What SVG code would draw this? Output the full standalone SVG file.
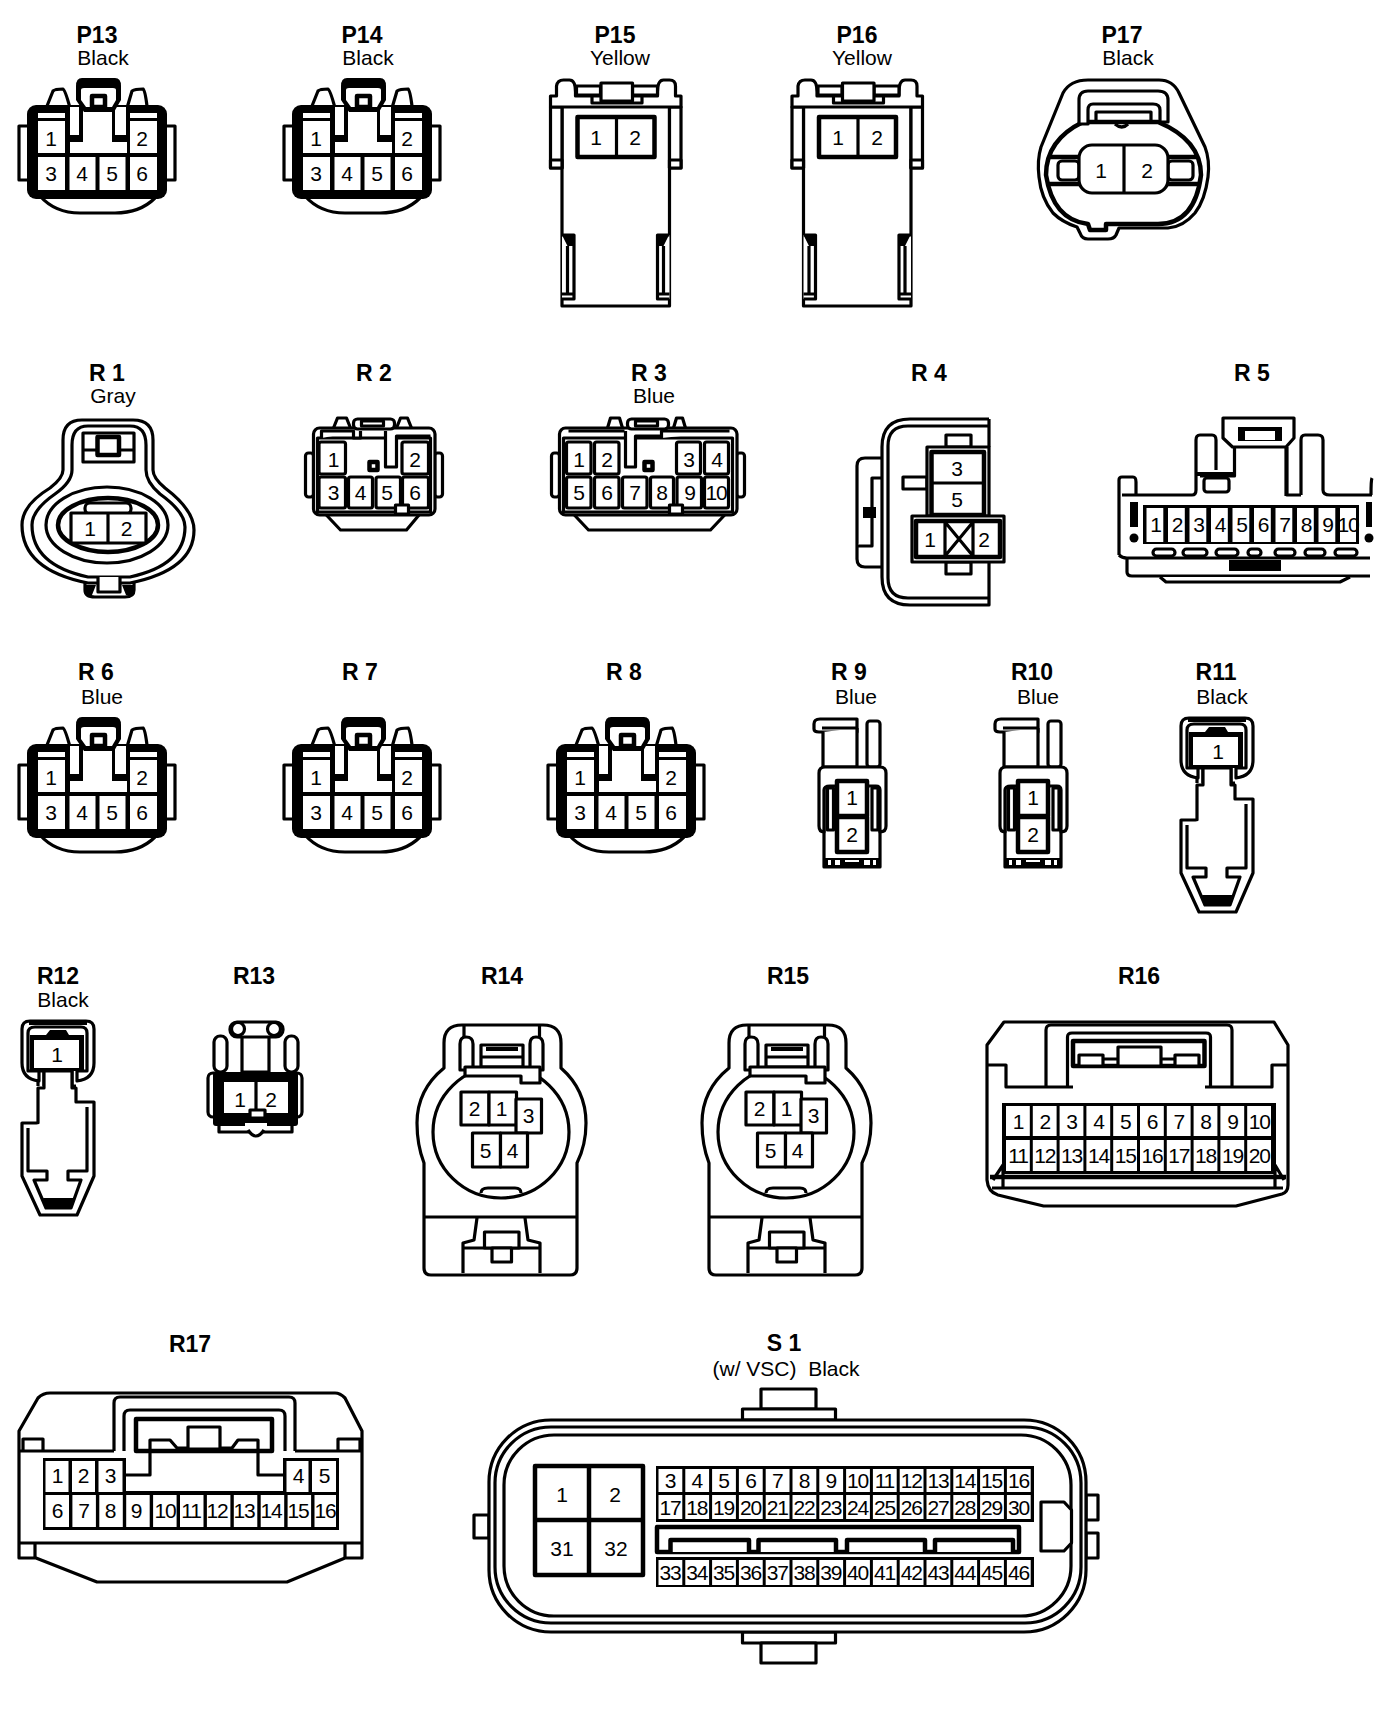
<svg xmlns="http://www.w3.org/2000/svg" width="1392" height="1712" viewBox="0 0 1392 1712">
<style>
text{font-family:"Liberation Sans",Arial,sans-serif;fill:#000;text-anchor:middle}
.l{font-size:23px;font-weight:bold}
.c{font-size:21px}
.n text,.n{font-size:21px}
.t2 text{letter-spacing:-1.2px}
.s,.s *{fill:#fff;stroke:#000;stroke-width:3.2;stroke-linejoin:round}
.o,.o *{fill:none;stroke:#000;stroke-width:3.2;stroke-linejoin:round}
.h{stroke-width:4.5 !important}
.f,.f *{fill:#000;stroke:none}
.w,.w *{fill:#fff;stroke:none}
</style>
<defs>
<g id="six">
<g class="s"><rect x="19" y="126" width="10" height="54"/><rect x="165" y="126" width="10" height="54"/>
<path d="M47,106 L53,91 Q55,89 63,89 Q65,89 70,108 M127,108 L132,91 Q135,89 143,89 Q145,90 147,106"/>
<path d="M40,196 Q55,213 80,213 H115 Q140,213 155,198"/></g>
<rect class="f" x="27" y="105" width="140" height="94" rx="9"/>
<g class="w"><rect x="38" y="113" width="27" height="5"/><rect x="130" y="113" width="27" height="5"/>
<rect x="38" y="121" width="27" height="32"/><rect x="130" y="121" width="27" height="32"/>
<rect x="38" y="157" width="27" height="33"/><rect x="69.5" y="157" width="26" height="33"/><rect x="99.5" y="157" width="26" height="33"/><rect x="130" y="157" width="27" height="33"/>
<path d="M83,107 H112 V142 H127 V153 H70 V142 H83Z"/><rect x="70" y="107" width="9" height="28"/><rect x="115" y="107" width="11" height="28"/></g>
<path class="f" d="M76,86 Q76,78 82,78 H115 Q121,78 121,86 V100 L114,112 H84 L76,100Z"/>
<path class="w" d="M81,90 Q81,88 84,88 H113 Q116,88 116,90 V100 L112,107 H86 L81,100Z"/>
<rect class="s h" x="92" y="96" width="13" height="11"/>
</g>
<g id="p15">
<g class="s">
<path d="M564.5,100 V306 H672 V100Z"/>
<rect x="553" y="107" width="11.5" height="61"/><rect x="672" y="107" width="11.5" height="61"/>
<path d="M553,107 V96 H559 V86 Q560,80 566,80 H572 Q578,80 578,92 V96 H660 V92 Q660,80 666,80 H672 Q678,80 678,86 V96 H683.5 V107Z"/>
<rect x="579" y="86" width="24" height="9"/><rect x="635" y="86" width="25" height="9"/>
<rect x="594.5" y="96" width="50" height="7"/><rect x="603.5" y="83" width="31.5" height="18"/>
<rect x="553" y="160" width="11.5" height="8"/><rect x="672" y="160" width="11.5" height="8"/>
<rect x="580" y="117" width="77" height="40" class="h"/><path d="M619,117 V157"/>
<path d="M564.5,299 H576.5 V235 H564.5 M570,246 V294 M564.5,294 H576.5 M672,299 H660 V235 H672 M666,246 V294 M660,294 H672"/>
</g>
<path class="f" d="M565,236 H576 V246 L570,246Z M660,236 H671 L666,246 H660Z"/>
</g>
<g id="r9">
<g class="s">
<path d="M819,732 H857 V719 H820 Q814,719 814,724 V729 Q814,732 819,732Z"/>
<path d="M823,732 V767 H857 V728 M822,728 H857"/>
<rect x="867" y="721" width="13" height="46" rx="3"/>
<path d="M824,767 V867 H880 V767"/>
<path d="M825,767 H880 Q886,767 886,773 V826 Q886,832 880,832 L880,790 Q880,786 876,786 H830 Q824,786 824,790 V832 Q819,832 819,826 V773 Q819,767 825,767Z"/>
<rect x="827.5" y="788" width="6" height="42"/><rect x="872" y="788" width="6" height="42"/>
<rect x="837" y="781" width="30" height="35" class="h"/><rect x="837" y="817" width="30" height="35" class="h"/>
</g>
<rect class="f" x="824" y="858" width="56" height="9"/>
<g class="w"><rect x="828" y="860" width="3" height="5"/><rect x="835" y="860" width="5" height="5"/><rect x="845" y="860" width="14" height="2"/><rect x="864" y="860" width="6" height="5"/><rect x="873" y="860" width="3" height="5"/></g>
<circle class="w" cx="873" cy="727" r="3"/>
</g>
<g id="r11">
<g class="s">
<path d="M1197,783 V768 H1203 V783 M1231,768 V783 H1235"/>
<path d="M1203,768 V785 H1197 V820 H1181 V873 L1199,912 H1236 L1253,873 V799 H1235 V785 H1231 V768Z"/>
<path d="M1198,778 Q1181,776 1181,760 V726 Q1181,718 1189,718 H1245 Q1253,718 1253,726 V760 Q1253,776 1236,778 V768 H1246 V730 Q1246,724 1240,724 H1194 Q1187,724 1187,730 V768 H1198Z"/>
<path d="M1187,825 V868 H1206 V877 H1193 L1205,905 H1230 L1240,877 H1227 V868 H1246 V804"/>
</g>
<path class="f" d="M1188,719 H1246 V722 H1188Z M1189,732 H1205 L1209,727 H1225 L1228,732 H1243 V768 H1189Z M1202,895 H1234 L1230,906 H1205Z"/>
<rect class="w" x="1193" y="737" width="45" height="28"/>
</g>
<g id="r14">
<g class="s">
<path d="M446,1068 V1043 Q446,1025 464,1025 H545 Q563,1025 563,1043 V1068 Q588,1090 588,1123 Q588,1145 579,1163 V1268 Q579,1275 572,1275 H433 Q426,1275 426,1268 V1163 Q419,1145 419,1123 Q419,1090 446,1068Z"/>
<ellipse cx="503" cy="1132" rx="68" ry="66"/>
<path class="o" d="M466,1025 V1040 M541.5,1025 V1040 M426,1217 H579 M479,1218 L476,1240 L465,1243 V1273 M527,1218 L530,1240 L542,1243 V1273 M465,1248 H542"/>
<path d="M483,1193 Q483,1188 490,1188 H517 Q523,1188 523,1193"/>
<path d="M462,1070 V1044 Q462,1037 468,1037 Q475,1037 475,1044 V1070Z M532,1070 V1044 Q532,1037 538,1037 Q545,1037 545,1044 V1070Z"/>
<rect x="483" y="1045" width="42" height="22"/>
<path d="M483,1057 H525" />
<path d="M467,1067 H542 V1083 H523 V1076 H467Z"/>
<rect x="486.5" y="1232" width="34.5" height="16"/><rect x="494" y="1248" width="19.5" height="14"/>
</g>
<g class="f"><rect x="488" y="1047" width="32" height="4"/></g>
</g>
</defs>

<g id="P13"><use href="#six"/><text class="l" x="97" y="43">P13</text><text class="c" x="103" y="65">Black</text>
<g class="n"><text x="51" y="146">1</text><text x="142" y="146">2</text><text x="51" y="181">3</text><text x="82" y="181">4</text><text x="112" y="181">5</text><text x="142" y="181">6</text></g></g>
<g id="P14"><use href="#six" x="265"/><text class="l" x="362" y="43">P14</text><text class="c" x="368" y="65">Black</text>
<g class="n" transform="translate(265,0)"><text x="51" y="146">1</text><text x="142" y="146">2</text><text x="51" y="181">3</text><text x="82" y="181">4</text><text x="112" y="181">5</text><text x="142" y="181">6</text></g></g>
<g id="P15"><use href="#p15" x="-2.5"/><text class="l" x="615" y="43">P15</text><text class="c" x="620" y="65">Yellow</text>
<g class="n"><text x="596" y="145">1</text><text x="635" y="145">2</text></g></g>
<g id="P16"><use href="#p15" x="239"/><text class="l" x="857" y="43">P16</text><text class="c" x="862" y="65">Yellow</text>
<g class="n"><text x="838" y="145">1</text><text x="877" y="145">2</text></g></g>
<g id="P17"><text class="l" x="1122" y="43">P17</text><text class="c" x="1128" y="65">Black</text>
<g class="s" transform="translate(-2,0)">
<path d="M1090,80 H1161 Q1175,80 1181,93 L1207,147 Q1212,160 1210,177 Q1207,200 1197,213 Q1185,227 1170,228 H1121 L1118,235 Q1116,239 1110,239 H1090 Q1084,239 1082,233 L1079,227 Q1064,222 1055,213 Q1043,198 1041,177 Q1039,160 1043,147 L1065,93 Q1072,80 1090,80Z"/>
<path class="h" d="M1090,224 Q1055,220 1048,175 Q1048,140 1085,122 L1160,122 Q1203,140 1203,175 Q1197,224 1160,224 H1108 V230 H1092Z"/>
<path d="M1081,120 V100 Q1081,91 1090,91 H1160 Q1170,91 1170,100 V122 H1162 V110 Q1162,104 1155,104 H1095 Q1090,104 1090,110 V124 H1081Z"/>
<path class="o" d="M1098,122 V112 H1153 V122 M1117,124 Q1124,130 1130,124"/>
<path class="o h" d="M1050,157 H1081 M1050,184 H1081 M1170,157 H1200 M1170,184 H1200"/>
<rect x="1060" y="161" width="21" height="19" rx="4"/><rect x="1170" y="161" width="25" height="19" rx="4"/>
<rect x="1081" y="145" width="89" height="48" rx="13"/><path d="M1126,146 V192"/>
</g>
<g class="n"><text x="1101" y="178">1</text><text x="1147" y="178">2</text></g></g>

<g id="R1"><text class="l" x="107" y="381">R 1</text><text class="c" x="113" y="403">Gray</text>
<g class="s">
<path d="M85,575 V590 Q85,597 95,597 H125 Q134,597 134,590 V575Z"/>
<path d="M63,440 Q63,420 82,420 H133 Q153,420 153,440 V470 Q153,478 165,488 Q194,510 194,530 Q194,570 130,583 H88 Q22,570 22,525 Q22,505 50,488 Q63,478 63,470Z"/>
<path d="M72,445 Q72,426 88,426 H130 Q146,426 146,445 V470 Q146,482 160,494 Q185,512 185,527 Q185,565 130,577 H88 Q32,565 32,525 Q32,510 55,494 Q72,482 72,470Z"/>
<ellipse cx="107" cy="525" rx="61" ry="38"/>
<ellipse class="h" cx="108" cy="525" rx="50" ry="27"/>
<rect x="85" y="503" width="46" height="11" rx="5"/>
<rect x="71" y="513" width="75" height="30"/><path d="M108,513 V543"/>
<rect x="83" y="433" width="51" height="29"/><path d="M83,450 H134"/>
<rect x="97.5" y="437" width="21.5" height="18" class="h"/>
<path d="M98,577 V592 H120 V577"/>
</g>
<path class="f" d="M85,585 H96 L92,595 H86Z M122,585 H134 L133,595 H126Z"/>
<g class="n"><text x="90" y="536">1</text><text x="126.500" y="536">2</text></g></g>

<g id="R2"><text class="l" x="374" y="381">R 2</text>
<g class="s" transform="translate(-2.500,0)">
<rect x="308" y="453" width="8" height="44" rx="3"/><rect x="437" y="453" width="8" height="44" rx="3"/>
<path d="M326,512 L343,530 H409 L424,512"/>
<path d="M336,428 L340,418 H349 L353,428"/><path d="M399,428 L403,418 H410 L414,428"/>
<rect x="316" y="428" width="121.500" height="87" rx="6"/>
<rect x="320" y="438" width="113" height="74"/>
<path d="M324,438 V431 H356 L356,438 H363 V431"/>
<rect x="356" y="419" width="41" height="10" rx="4"/><rect x="364" y="421" width="22" height="5"/>
<path d="M388,431 V467 H399 V436 H433"/>
<rect x="372" y="462" width="8" height="8" class="h"/>
<rect x="321.500" y="442" width="26.500" height="32" rx="2"/><rect x="404.500" y="442" width="26.500" height="32" rx="2"/>
<rect x="321.500" y="477" width="26.500" height="31" rx="2"/><rect x="351" y="477" width="24" height="31" rx="2"/><rect x="378.500" y="477" width="24.500" height="31" rx="2"/><rect x="405" y="477" width="26" height="31" rx="2"/>
<rect x="398" y="505" width="13" height="9"/>
</g>
<g class="n"><text x="333.500" y="467">1</text><text x="415" y="467">2</text><text x="333.500" y="500">3</text><text x="360.500" y="500">4</text><text x="387" y="500">5</text><text x="415" y="500">6</text></g></g>

<g id="R3"><text class="l" x="649" y="381">R 3</text><text class="c" x="654" y="403">Blue</text>
<g class="s" transform="translate(-3.500,0)">
<rect x="555" y="453" width="8" height="44" rx="3"/><rect x="740" y="453" width="8" height="44" rx="3"/>
<path d="M575,512 L592,530 H714 L731,512"/>
<path d="M611,428 L614,418 H623 L626,428"/><path d="M677,428 L680,418 H686 L689,428"/>
<rect x="563" y="428" width="177.500" height="87" rx="6"/>
<rect x="567" y="438" width="169" height="74"/>
<path d="M572,431 H628 M665,438 V431 H733"/>
<rect x="631" y="419" width="41" height="10" rx="4"/><rect x="639" y="421" width="22" height="5"/>
<path d="M629,431 V467 H639 V436 H665"/>
<rect x="648" y="462" width="8" height="8" class="h"/>
<rect x="570" y="442" width="24.500" height="32" rx="2"/><rect x="598" y="442" width="24.500" height="32" rx="2"/><rect x="680" y="442" width="24" height="32" rx="2"/><rect x="708" y="442" width="24" height="32" rx="2"/>
<rect x="570" y="477" width="24.500" height="31" rx="2"/><rect x="598" y="477" width="24.500" height="31" rx="2"/><rect x="626" y="477" width="24.500" height="31" rx="2"/><rect x="654" y="477" width="23" height="31" rx="2"/><rect x="680.500" y="477" width="24.500" height="31" rx="2"/><rect x="708" y="477" width="24" height="31" rx="2"/>
<rect x="673" y="505" width="13" height="9"/>
</g>
<g class="n"><text x="579" y="467">1</text><text x="607" y="467">2</text><text x="689" y="467">3</text><text x="717" y="467">4</text><text x="579" y="500">5</text><text x="607" y="500">6</text><text x="635" y="500">7</text><text x="662" y="500">8</text><text x="690" y="500">9</text><text x="716" y="500" style="letter-spacing:-1.200px">10</text></g></g>

<g id="R4"><text class="l" x="929" y="381">R 4</text>
<g class="s">
<path d="M882,458 H865 Q857,458 857,466 V559 Q857,567 865,567 H882"/>
<path d="M881,478 H872 V546 H858 M882,480"/>
<path d="M989,419 H910 Q882,419 882,447 V577 Q882,605 910,605 H989 V562 M989,447 V419"/>
<path class="o" d="M989,426 H908 Q888,426 888,446 V578 Q888,598 908,598 H989"/>
<rect x="946" y="435" width="25" height="12"/><rect x="903" y="477" width="24" height="12"/><rect x="946" y="562" width="25" height="12"/>
<rect x="927" y="447" width="62" height="69"/>
<rect x="931.500" y="452" width="52.500" height="63" class="h"/><path d="M932,483 H984"/>
<rect x="912" y="516" width="92" height="46"/>
<rect x="916" y="521" width="84" height="36" class="h"/>
<path d="M945,521 V557 M973,521 V557 M945,522 L973,556 M973,522 L945,556"/>
</g>
<rect class="f" x="863" y="507" width="13" height="11"/>
<g class="n"><text x="957" y="476">3</text><text x="957" y="507">5</text><text x="930" y="547">1</text><text x="984" y="547">2</text></g></g>

<g id="R5"><text class="l" x="1252" y="381">R 5</text>
<g class="s">
<path d="M1119,555 V480 Q1119,477 1122,477 H1133 Q1136,477 1136,482 V495 M1122,495 H1192 Q1196,495 1196,490 V440 Q1196,435 1200,435 H1212 Q1216,435 1216,440 V470"/>
<path d="M1301,495 V440 Q1301,435 1305,435 H1318 Q1323,435 1323,440 V490 Q1323,495 1330,495 H1372"/>
<path d="M1287,447 V495 H1301" class="o"/>
<path d="M1234.500,447 V476 H1200 M1286,447 V496" class="o"/>
<path d="M1223,418 H1294 V438 L1286,447 H1232.500 L1223,438Z"/>
<rect x="1204" y="478" width="25" height="14" rx="3"/>
<rect x="1197" y="472" width="37" height="4" class="f"/>
<path d="M1127,558 V572 Q1127,576 1132,576 H1370"/>
<path d="M1160,577 L1166,582 H1340 L1350,577"/>
<path d="M1119,555 Q1122,558 1127,558 H1370" class="o"/>
<path class="o" d="M1372,478 Q1371,480 1371,495"/>
</g>
<path class="f" d="M1238,427 H1282 V441 H1238Z M1143,505 H1359 V544 H1143Z M1229,560 H1281 V571 H1229Z M1130,502 H1138 V527 H1130Z M1366,502 H1372 V527 H1366Z"/>
<rect class="w" x="1245" y="431" width="30" height="9"/>
<line x1="1146.500" y1="525" x2="1356" y2="525" stroke="#fff" stroke-width="34" stroke-dasharray="16.800 4.700"/>
<circle class="f" cx="1134" cy="538" r="4.500"/><circle class="f" cx="1369" cy="538" r="4.500"/>
<g class="s"><rect x="1153" y="549" width="22" height="7" rx="3.500"/><rect x="1183" y="549" width="24" height="7" rx="3.500"/><rect x="1216" y="549" width="22" height="7" rx="3.500"/><rect x="1248" y="549" width="13" height="7" rx="3.500"/><rect x="1275" y="549" width="20" height="7" rx="3.500"/><rect x="1305" y="549" width="20" height="7" rx="3.500"/><rect x="1335" y="549" width="22" height="7" rx="3.500"/></g>
<g class="n t2"><text x="1155.500" y="532">1</text><text x="1177" y="532">2</text><text x="1198.500" y="532">3</text><text x="1220" y="532">4</text><text x="1241.500" y="532">5</text><text x="1263" y="532">6</text><text x="1284.500" y="532">7</text><text x="1306" y="532">8</text><text x="1327.500" y="532">9</text><text x="1348" y="532">10</text></g></g>

<g id="R6"><use href="#six" y="639"/><text class="l" x="96" y="680">R 6</text><text class="c" x="102" y="704">Blue</text>
<g class="n" transform="translate(0,639)"><text x="51" y="146">1</text><text x="142" y="146">2</text><text x="51" y="181">3</text><text x="82" y="181">4</text><text x="112" y="181">5</text><text x="142" y="181">6</text></g></g>
<g id="R7"><use href="#six" x="265" y="639"/><text class="l" x="360" y="680">R 7</text>
<g class="n" transform="translate(265,639)"><text x="51" y="146">1</text><text x="142" y="146">2</text><text x="51" y="181">3</text><text x="82" y="181">4</text><text x="112" y="181">5</text><text x="142" y="181">6</text></g></g>
<g id="R8"><use href="#six" x="529" y="639"/><text class="l" x="624" y="680">R 8</text>
<g class="n" transform="translate(529,639)"><text x="51" y="146">1</text><text x="142" y="146">2</text><text x="51" y="181">3</text><text x="82" y="181">4</text><text x="112" y="181">5</text><text x="142" y="181">6</text></g></g>
<g id="R9"><use href="#r9"/><text class="l" x="849" y="680">R 9</text><text class="c" x="856" y="704">Blue</text>
<g class="n"><text x="852" y="805">1</text><text x="852" y="842">2</text></g></g>
<g id="R10"><use href="#r9" x="181"/><text class="l" x="1032" y="680">R10</text><text class="c" x="1038" y="704">Blue</text>
<g class="n"><text x="1033" y="805">1</text><text x="1033" y="842">2</text></g></g>
<g id="R11"><use href="#r11"/><text class="l" x="1216" y="680">R11</text><text class="c" x="1222" y="704">Black</text>
<g class="n"><text x="1218" y="759">1</text></g></g>

<g id="R12"><use href="#r11" x="-1159" y="303"/><text class="l" x="58" y="984">R12</text><text class="c" x="63" y="1007">Black</text>
<g class="n"><text x="57" y="1062">1</text></g></g>
<g id="R13"><text class="l" x="254" y="984">R13</text>
<g class="s">
<rect x="214" y="1036" width="13" height="36" rx="6"/><rect x="285" y="1036" width="13" height="36" rx="6"/>
<path d="M242,1036 V1072 H269 V1036"/>
<rect x="230" y="1022" width="53" height="15" rx="7"/>
<circle cx="238" cy="1029" r="6.500"/><circle cx="274" cy="1029" r="6.500"/>
<rect x="208" y="1073" width="14" height="44" rx="5"/><rect x="289" y="1073" width="13" height="44" rx="5"/>
<path d="M219,1123 V1132 H292 V1123"/><path d="M248,1130 Q256,1142 264,1130"/>
</g>
<rect class="f" x="213" y="1072" width="85" height="54" rx="3"/>
<rect class="w" x="224" y="1082" width="64" height="31"/>
<path class="o" d="M256,1082 V1113"/>
<rect class="s" x="250" y="1110" width="15" height="8"/>
<rect class="w" x="245" y="1123" width="22" height="3"/>
<g class="n"><text x="240" y="1107">1</text><text x="271" y="1107">2</text></g></g>

<g id="R14"><use href="#r14" x="-2"/><text class="l" x="502" y="984">R14</text>
<g class="s" transform="translate(-2.500,0)"><rect x="463.500" y="1092" width="28" height="33"/><rect x="491.500" y="1092" width="27.500" height="33"/><rect x="518.500" y="1099" width="25.500" height="34"/><rect x="475" y="1133" width="28" height="34"/><rect x="503" y="1133" width="27" height="34"/></g>
<g class="n" transform="translate(-2.500,0)"><text x="477" y="1116">2</text><text x="504" y="1116">1</text><text x="531" y="1123">3</text><text x="488" y="1158">5</text><text x="515" y="1158">4</text></g></g>
<g id="R15"><use href="#r14" x="283"/><text class="l" x="788" y="984">R15</text>
<g class="s" transform="translate(282.500,0)"><rect x="463.500" y="1092" width="28" height="33"/><rect x="491.500" y="1092" width="27.500" height="33"/><rect x="518.500" y="1099" width="25.500" height="34"/><rect x="475" y="1133" width="28" height="34"/><rect x="503" y="1133" width="27" height="34"/></g>
<g class="n" transform="translate(282.500,0)"><text x="477" y="1116">2</text><text x="504" y="1116">1</text><text x="531" y="1123">3</text><text x="488" y="1158">5</text><text x="515" y="1158">4</text></g></g>

<g id="R16"><text class="l" x="1139" y="984">R16</text>
<g transform="translate(-2,0)">
<g class="s">
<path d="M1006,1022 H1276 L1290,1045 V1185 Q1290,1192 1284,1194 L1238,1206 H1045.600 L1000,1195 Q990,1192 989,1180 V1045Z"/>
<path d="M1048,1087 V1030 Q1048,1025 1053,1025 H1229 Q1234,1025 1234,1030 V1087"/>
<path d="M1069.500,1087 V1037 Q1069.500,1033 1074,1033 H1208 Q1212.500,1033 1212.500,1037 V1087"/>
<rect x="1075" y="1041" width="131.500" height="25" class="h"/>
<rect x="1081" y="1055" width="24" height="11"/><rect x="1177" y="1055" width="24" height="11"/>
<path d="M1105,1059 H1120 M1163,1059 H1177"/>
<rect x="1120" y="1047" width="43" height="19"/>
<path class="o" d="M989,1065 H1008 V1087 H1075 M1207,1087 H1274 V1065 H1290"/>
<path class="o" d="M995,1180 L1005,1165 V1188 M1286,1180 L1277,1165 V1188 M994,1188 H1285"/>
<path class="o h" d="M992,1177 H1288"/>
</g>
<rect class="f" x="1004" y="1103" width="274" height="71"/>
<line x1="1008" y1="1121" x2="1276" y2="1121" stroke="#fff" stroke-width="30" stroke-dasharray="23.800 3"/>
<line x1="1008" y1="1155.500" x2="1276" y2="1155.500" stroke="#fff" stroke-width="31" stroke-dasharray="23.800 3"/>
<g class="n t2"><text x="1020" y="1129">1</text><text x="1046.800" y="1129">2</text><text x="1073.600" y="1129">3</text><text x="1100.400" y="1129">4</text><text x="1127.200" y="1129">5</text><text x="1154" y="1129">6</text><text x="1180.800" y="1129">7</text><text x="1207.600" y="1129">8</text><text x="1234.400" y="1129">9</text><text x="1261.200" y="1129">10</text>
<text x="1020" y="1163">11</text><text x="1046.800" y="1163">12</text><text x="1073.600" y="1163">13</text><text x="1100.400" y="1163">14</text><text x="1127.200" y="1163">15</text><text x="1154" y="1163">16</text><text x="1180.800" y="1163">17</text><text x="1207.600" y="1163">18</text><text x="1234.400" y="1163">19</text><text x="1261.200" y="1163">20</text></g></g></g>

<g id="R17"><text class="l" x="190" y="1352">R17</text>
<g class="s">
<path d="M19,1431 L38,1398 Q43,1393 50,1393 H335 Q340,1393 345,1398 L362,1431 V1558 H345 L287,1582 H97 L36,1558 H19Z"/>
<path class="o" d="M19,1451 H114 M295,1451 H362 M19,1543 H362 M35,1543 V1558 M345,1543 V1558 M23,1451 V1439 H43 V1451 M338,1451 V1439 H360 V1451"/>
<path d="M114,1451 V1403 Q114,1397 120,1397 H289 Q295,1397 295,1403 V1451"/>
<path d="M124,1451 V1416 Q124,1410 130,1410 H279 Q285,1410 285,1416 V1451"/>
<rect x="136" y="1419" width="136" height="32" class="h"/>
<rect x="188" y="1427" width="32" height="22"/>
<path class="o" d="M150,1452 V1440 H170 L177,1448 H188 M258,1452 V1440 H238 L232,1448 H220"/>
<path class="o" d="M150,1452 V1475 H126 M258,1452 V1475 H283"/>
</g>
<path class="f" d="M43,1458 H126 V1491 H283 V1458 H339 V1530 H43Z"/>
<g class="w"><rect x="45.500" y="1461" width="23" height="31"/><rect x="72" y="1461" width="23" height="31"/><rect x="98.500" y="1461" width="24" height="31"/><rect x="286.500" y="1461" width="22" height="31"/><rect x="312" y="1461" width="24" height="31"/></g>
<line x1="45.500" y1="1511" x2="336" y2="1511" stroke="#fff" stroke-width="32" stroke-dasharray="23.500 3.400"/>
<g class="n t2"><text x="57" y="1483">1</text><text x="83" y="1483">2</text><text x="110" y="1483">3</text><text x="298" y="1483">4</text><text x="324" y="1483">5</text>
<text x="57" y="1518">6</text><text x="83.500" y="1518">7</text><text x="110" y="1518">8</text><text x="136" y="1518">9</text><text x="165" y="1518">10</text><text x="191" y="1518">11</text><text x="217" y="1518">12</text><text x="244" y="1518">13</text><text x="271" y="1518">14</text><text x="298" y="1518">15</text><text x="325" y="1518">16</text></g></g>

<g id="S1"><text class="l" x="784" y="1351">S 1</text><text class="c" x="786" y="1376" style="white-space:pre">(w/ VSC)  Black</text>
<g class="s">
<rect x="761" y="1389" width="55" height="20"/><rect x="742.500" y="1409" width="93" height="11"/>
<rect x="742.500" y="1632" width="93" height="11"/><rect x="761" y="1643" width="55" height="20"/>
<rect x="474" y="1515" width="15" height="23"/><rect x="1086" y="1495" width="12" height="25"/><rect x="1086" y="1533" width="12" height="25"/>
<rect x="489" y="1420" width="597" height="212" rx="62"/>
<rect x="495" y="1427" width="586" height="196" rx="56" fill="none"/>
<rect x="504" y="1435" width="567" height="181" rx="50"/>
<path d="M1041,1502 H1064 L1071.500,1510 V1543 L1064,1551 H1041Z"/>
<rect x="535" y="1466" width="108" height="109" class="h"/>
<path class="h" d="M589,1466 V1575 M535,1520 H643"/>
<rect x="657" y="1527" width="362" height="25" class="h"/>
<path class="h" d="M670.500,1552 V1540 H749 V1552 M758.500,1552 V1540 H836 V1552 M847,1552 V1540 H925 V1552 M935,1552 V1540 H1013 V1552"/>
</g>
<rect class="f" x="656" y="1466" width="378" height="56"/><rect class="f" x="656" y="1557" width="378" height="30"/>
<line x1="658.500" y1="1480.500" x2="1031.500" y2="1480.500" stroke="#fff" stroke-width="23" stroke-dasharray="23.800 3"/>
<line x1="658.500" y1="1507" x2="1031.500" y2="1507" stroke="#fff" stroke-width="24" stroke-dasharray="23.800 3"/>
<line x1="658.500" y1="1572.500" x2="1031.500" y2="1572.500" stroke="#fff" stroke-width="25" stroke-dasharray="23.800 3"/>
<g class="n"><text x="562" y="1502">1</text><text x="615" y="1502">2</text><text x="562" y="1556">31</text><text x="616" y="1556">32</text></g>
<g class="n t2" transform="translate(-2.500,0)"><text x="672.500" y="1488">3</text><text x="699.300" y="1488">4</text><text x="726.100" y="1488">5</text><text x="752.900" y="1488">6</text><text x="779.700" y="1488">7</text><text x="806.500" y="1488">8</text><text x="833.300" y="1488">9</text><text x="860.100" y="1488">10</text><text x="886.900" y="1488">11</text><text x="913.700" y="1488">12</text><text x="940.500" y="1488">13</text><text x="967.300" y="1488">14</text><text x="994.100" y="1488">15</text><text x="1020.900" y="1488">16</text>
<text x="672.500" y="1515">17</text><text x="699.300" y="1515">18</text><text x="726.100" y="1515">19</text><text x="752.900" y="1515">20</text><text x="779.700" y="1515">21</text><text x="806.500" y="1515">22</text><text x="833.300" y="1515">23</text><text x="860.100" y="1515">24</text><text x="886.900" y="1515">25</text><text x="913.700" y="1515">26</text><text x="940.500" y="1515">27</text><text x="967.300" y="1515">28</text><text x="994.100" y="1515">29</text><text x="1020.900" y="1515">30</text>
<text x="672.500" y="1580">33</text><text x="699.300" y="1580">34</text><text x="726.100" y="1580">35</text><text x="752.900" y="1580">36</text><text x="779.700" y="1580">37</text><text x="806.500" y="1580">38</text><text x="833.300" y="1580">39</text><text x="860.100" y="1580">40</text><text x="886.900" y="1580">41</text><text x="913.700" y="1580">42</text><text x="940.500" y="1580">43</text><text x="967.300" y="1580">44</text><text x="994.100" y="1580">45</text><text x="1020.900" y="1580">46</text></g></g>
</svg>
